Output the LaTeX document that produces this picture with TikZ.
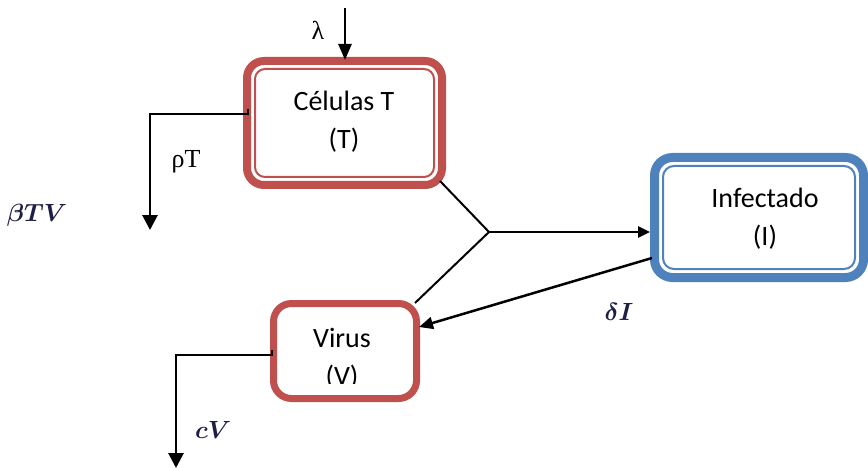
\documentclass[tikz,border=0pt]{standalone}
\usepackage{fontspec}
\setmainfont{Carlito}
\newfontfamily\tnr{Liberation Serif}
\usetikzlibrary{arrows.meta}
\definecolor{redb}{RGB}{192,80,77}
\definecolor{blueb}{RGB}{79,129,189}
\definecolor{mathc}{RGB}{30,30,70}
\begin{document}
\begin{tikzpicture}[x=1pt,y=-1pt,
  boxtext/.style={font=\fontsize{28}{38}\selectfont, align=center, inner sep=0pt},
  flow/.style={line width=2.8pt, -{Triangle[length=15pt,width=15pt]}},
  link/.style={line width=2pt},
  mlabel/.style={font=\fontsize{25}{28}\selectfont\boldmath, text=mathc, inner sep=0pt},
  tlabel/.style={font=\tnr\fontsize{26}{28}\selectfont, inner sep=0pt}]
\useasboundingbox (0,0) rectangle (868,468);
% boxes
\node[draw=redb, line width=8pt, rounded corners=17pt, minimum width=195pt, minimum height=124pt, inner sep=0pt] (T) at (344.5,123) {};
\draw[redb, line width=2pt, rounded corners=10pt] ([shift={(12pt,-12pt)}]T.north west) rectangle ([shift={(-12pt,12pt)}]T.south east);
\node[boxtext] (Tt) at (344,122) {Células T\\(T)};

\node[draw=blueb, line width=9pt, rounded corners=18pt, minimum width=209pt, minimum height=120pt, inner sep=0pt] (I) at (759,217.5) {};
\draw[blueb, line width=2pt, rounded corners=11pt] ([shift={(13pt,-13pt)}]I.north west) rectangle ([shift={(-13pt,13pt)}]I.south east);
\node[boxtext] (It) at (765,219) {Infectado\\(I)};

\node[draw=redb, line width=7pt, rounded corners=18pt, minimum width=143pt, minimum height=95pt, inner sep=0pt] (V) at (345,351) {};
\begin{scope}
\clip (277,307) rectangle (413,383);
\node[boxtext] (Vt) at (342,358.5) {Virus\\(V)};
\end{scope}

% lambda
\coordinate (lamtop) at (345,8);
\draw[line width=2.5pt, -{Triangle[length=16pt,width=13pt]}] (lamtop) -- ([yshift=-3pt]lamtop |- T.north);
\node[tlabel] (lam) at (318,30) {λ};

% rho T
\coordinate (rhoA) at (248,109);
\coordinate (rhoB) at (248,114);
\coordinate (rhoC) at (150,114);
\coordinate (rhoD) at (150,230);
\draw[flow] (rhoA) -- (rhoB) -- (rhoC) -- (rhoD);
\node[tlabel] (rho) at (186,162) {ρT};

% beta TV
\node[mlabel] (btv) at (37,215) {$\beta TV$};

% junction
\coordinate (J) at (489,232);
\coordinate (Tout) at (440,181);
\coordinate (Vin) at (415,303);
\draw[link] (Tout) -- (J) -- (Vin);
\draw[line width=2.5pt, -{Triangle[length=12pt,width=11pt]}] (J) -- (I.west |- J);

% delta I
\coordinate (Iout) at (652,258);
\coordinate (Vtip) at (419,327);
\draw[line width=2.5pt, -{Triangle[length=14pt,width=12pt]}] (Iout) -- (Vtip);
\node[mlabel] (dI) at (619,312) {$\delta I$};

% cV
\coordinate (cA) at (272,350);
\coordinate (cB) at (272,355);
\coordinate (cC) at (176,355);
\coordinate (cD) at (176,468);
\draw[flow] (cA) -- (cB) -- (cC) -- (cD);
\node[mlabel] (cv) at (213,430) {$cV$};
\end{tikzpicture}
\end{document}
